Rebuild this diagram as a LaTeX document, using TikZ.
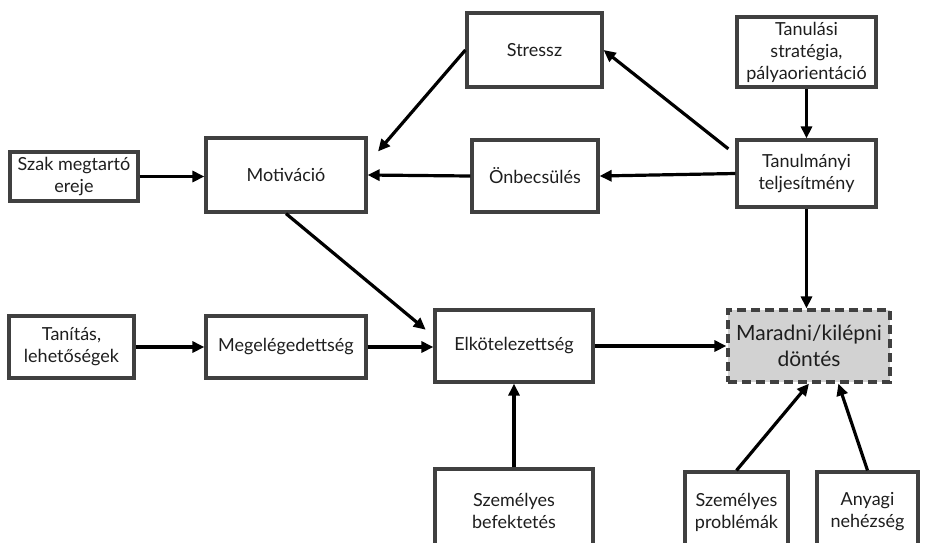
\documentclass[tikz,border=0pt]{standalone}
\usepackage{fontspec}
\setmainfont{Lato}
\usetikzlibrary{arrows.meta}
\definecolor{boxgray}{HTML}{404040}
\definecolor{boxfill}{HTML}{D2D2D2}
\definecolor{txtgray}{HTML}{1E1E1E}

\begin{document}
\begin{tikzpicture}[x=1pt,y=-1pt,
  box/.style={draw=boxgray,line width=3.2pt,fill=white,align=center,text=txtgray,
    inner sep=1pt,font=\fontsize{18}{22}\selectfont},
  decision/.style={box,dash pattern=on 9pt off 5pt,fill=boxfill,
    font=\fontsize{21}{26}\selectfont},
  arr/.style={-{Triangle[length=12pt,width=11pt]},line width=3.2pt,black}]
  \clip (0,0) rectangle (928,542);
  \fill[white] (0,0) rectangle (928,542);

  \node[box,minimum width=128pt,minimum height=49pt] (szak) at (74,176.5) {Szak megtartó\\ereje};
  \node[box,minimum width=160pt,minimum height=74pt] (motiv) at (286,175) {Motiváció};
  \node[box,minimum width=135pt,minimum height=74pt] (stressz) at (534.5,50) {Stressz};
  \node[box,minimum width=126pt,minimum height=72pt] (onbecs) at (535,176) {Önbecsülés};
  \node[box,minimum width=139pt,minimum height=70pt] (tanulasi) at (806.5,52) {Tanulási\\stratégia,\\pályaorientáció};
  \node[box,minimum width=139pt,minimum height=67pt] (tanulm) at (806.5,173.5) {Tanulmányi\\teljesítmény};
  \node[box,minimum width=125pt,minimum height=62pt] (tanitas) at (71.5,347) {Tanítás,\\lehetőségek};
  \node[box,minimum width=160pt,minimum height=62pt] (megel) at (286,347) {Megelégedettség};
  \node[box,minimum width=158pt,minimum height=72pt] (elkot) at (514,346) {Elkötelezettség};
  \node[decision,minimum width=162pt,minimum height=72pt] (marad) at (809,346) {Maradni/kilépni\\döntés};
  \node[box,minimum width=158pt,minimum height=84pt] (befekt) at (514,511) {Személyes\\befektetés};
  \node[box,minimum width=103pt,minimum height=80pt] (probl) at (736.5,512) {Személyes\\problémák};
  \node[box,minimum width=101pt,minimum height=80pt] (anyagi) at (867.5,512) {Anyagi\\nehézség};

  \draw[arr] (szak.east) -- (motiv.west |- szak.east);
  \draw[arr,shorten >=16pt] (stressz.west) -- (motiv.8);
  \draw[arr] (onbecs.west) -- (motiv.east);
  \draw[arr] (tanulm.west) -- (onbecs.east);
  \draw[arr,shorten <=9pt] (tanulm.165) -- (stressz.east);
  \draw[arr] (tanulasi.south) -- (tanulm.north);
  \draw[arr,shorten >=10pt] (motiv.south) -- (elkot.173);
  \draw[arr] (tanitas.east) -- (megel.west);
  \draw[arr] (megel.east) -- (elkot.west |- megel.east);
  \draw[arr] (elkot.east) -- (marad.west);
  \draw[arr] (tanulm.south) -- (tanulm.south |- marad.north);
  \draw[arr] (befekt.north) -- (elkot.south);
  \draw[arr] (probl.north) -- (marad.south);
  \draw[arr] (anyagi.north) -- (marad.-52);
\end{tikzpicture}
\end{document}
